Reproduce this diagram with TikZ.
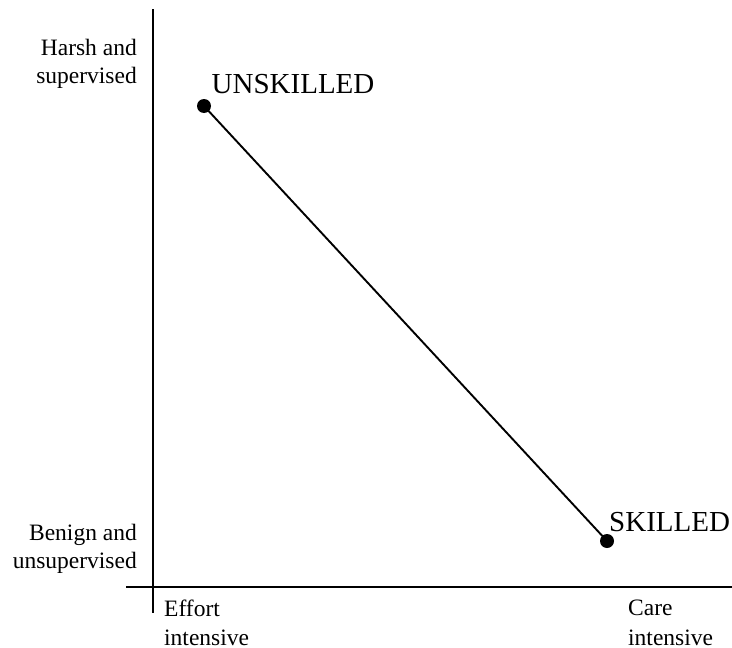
\documentclass[tikz,border=0pt]{standalone}
\usepackage{fontspec}
\setmainfont{Liberation Serif}
\begin{document}
\begin{tikzpicture}[x=1pt,y=-1pt,
  axis/.style={line width=2pt},
  link/.style={line width=1.9pt},
  dot/.style={circle,fill=black,inner sep=0pt,minimum size=14pt},
  axislabel/.style={inner sep=0pt,font=\fontsize{23.5}{28}\selectfont},
  pointlabel/.style={inner sep=0pt,font=\fontsize{29}{34}\selectfont}]
  \useasboundingbox (0,0) rectangle (732,648);
  % axes
  \coordinate (ytop) at (153,9);
  \coordinate (ybot) at (153,613);
  \coordinate (xleft) at (126,587);
  \coordinate (xright) at (732,587);
  \draw[axis] (ytop) -- (ybot);
  \draw[axis] (xleft) -- (xright);
  % axis labels (anchored on the baseline of their last line)
  \node[axislabel,align=right,anchor=base east] (harsh) at (137,83) {Harsh and\\supervised};
  \node[axislabel,align=right,anchor=base east] (benign) at (137,568) {Benign and\\unsupervised};
  \node[axislabel,align=left,anchor=base west,font=\fontsize{23.5}{29}\selectfont] (effort) at (164,645) {Effort\\intensive};
  \node[axislabel,align=left,anchor=base west,font=\fontsize{23.5}{30}\selectfont] (care) at (628,645) {Care\\intensive};
  % the two positions and the line between them
  \node[dot] (unskilled) at (204,106) {};
  \node[dot] (skilled) at (607,541) {};
  \draw[link] (unskilled.center) -- (skilled.center);
  \node[pointlabel,anchor=base west] (unskilledlabel) at (211.5,93) {UNSKILLED};
  \node[pointlabel,anchor=base west] (skilledlabel) at (609,531) {SKILLED};
\end{tikzpicture}
\end{document}
